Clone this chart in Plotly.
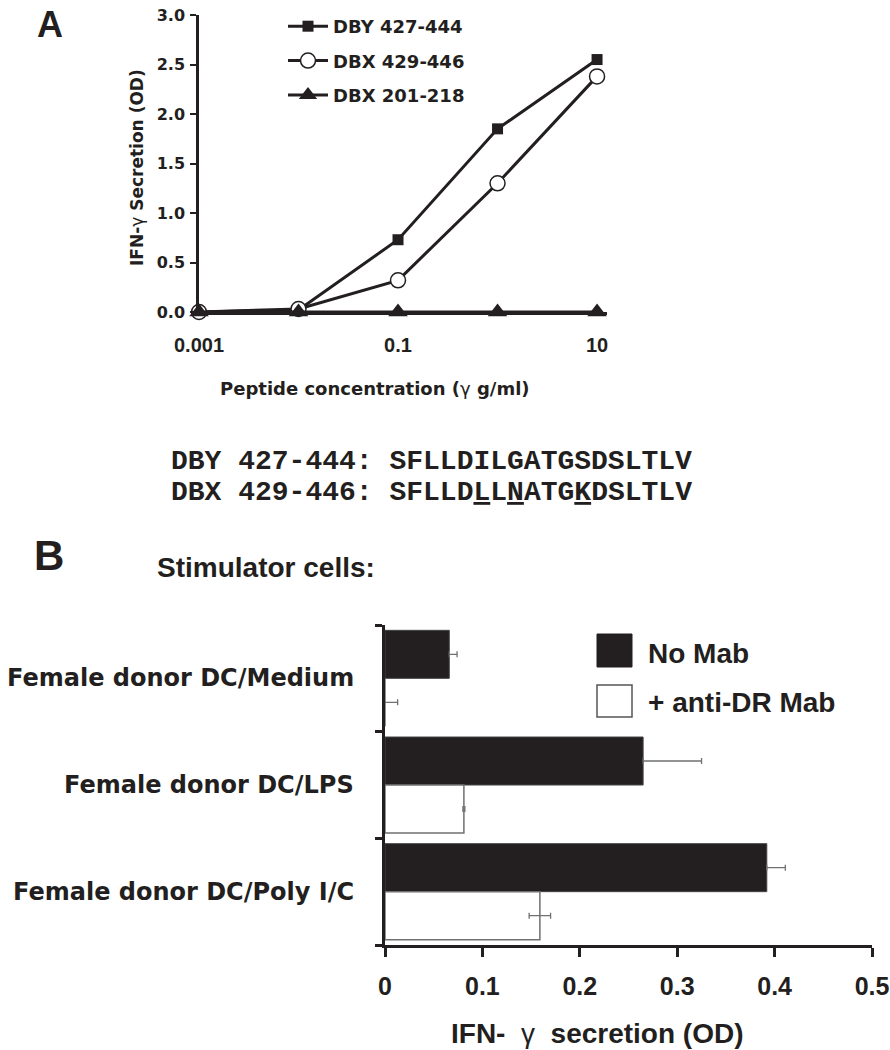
import plotly.graph_objects as go

# ---------------- Panel A data ----------------
conc = [0.001, 0.01, 0.1, 1, 10]
dby_427_444 = [0.0, 0.02, 0.73, 1.85, 2.55]
dbx_429_446 = [0.0, 0.03, 0.32, 1.30, 2.38]
dbx_201_218 = [0.0, 0.0, 0.0, 0.0, 0.0]
series_names = ["DBY 427-444", "DBX 429-446", "DBX 201-218"]
x_tick_vals = [0.001, 0.1, 10]
x_tick_text = ["0.001", "0.1", "10"]
y_tick_vals = [0, 0.5, 1.0, 1.5, 2.0, 2.5, 3.0]
y_tick_text = ["0.0", "0.5", "1.0", "1.5", "2.0", "2.5", "3.0"]

# ---------------- Panel B data ----------------
stimulators = ["Female donor DC/Medium", "Female donor DC/LPS", "Female donor DC/Poly I/C"]
no_mab = [0.066, 0.265, 0.392]
no_mab_err = [0.008, 0.060, 0.019]
anti_dr = [0.0, 0.081, 0.159]
anti_dr_err = [0.013, 0.001, 0.011]
bar_names = ["No Mab", "+ anti-DR Mab"]
bx_ticks = [0, 0.1, 0.2, 0.3, 0.4, 0.5]
bx_text = ["0", "0.1", "0.2", "0.3", "0.4", "0.5"]

INK = "#231f20"
DJ = "DejaVu Sans"
AR = "Liberation Sans, Arial"
MONO = "Liberation Mono, Courier New"
W, H = 890, 1050

fig = go.Figure()

# Panel A traces
fig.add_trace(go.Scatter(x=conc, y=dby_427_444, mode="lines+markers", name=series_names[0],
                         line=dict(color=INK, width=3),
                         marker=dict(symbol="square", size=11, color=INK),
                         cliponaxis=False, legendgroup="a", xaxis="x", yaxis="y"))
fig.add_trace(go.Scatter(x=conc, y=dbx_429_446, mode="lines+markers", name=series_names[1],
                         line=dict(color=INK, width=3),
                         marker=dict(symbol="circle", size=15, color="white",
                                     line=dict(color=INK, width=1.5)),
                         cliponaxis=False, legendgroup="b", xaxis="x", yaxis="y"))
fig.add_trace(go.Scatter(x=conc, y=dbx_201_218, mode="lines+markers", name=series_names[2],
                         line=dict(color=INK, width=3),
                         marker=dict(symbol="triangle-up", size=17, color=INK),
                         cliponaxis=False, legendgroup="c", xaxis="x", yaxis="y"))

# Panel B traces
cat_pos = list(range(len(stimulators)))
fig.add_trace(go.Bar(y=cat_pos, x=no_mab, orientation="h", name=bar_names[0],
                     marker=dict(color=INK, line=dict(color="#444", width=1)),
                     error_x=dict(type="data", array=no_mab_err, arrayminus=[0]*3,
                                  symmetric=False, color="#707070", thickness=1.3, width=3),
                     showlegend=False, xaxis="x2", yaxis="y2"))
fig.add_trace(go.Bar(y=cat_pos, x=anti_dr, orientation="h", name=bar_names[1],
                     marker=dict(color="white", line=dict(color="#707070", width=1.5)),
                     error_x=dict(type="data", array=anti_dr_err,
                                  color="#707070", thickness=1.3, width=3),
                     showlegend=False, xaxis="x2", yaxis="y2"))

def px_x(p):
    return p / W

def px_y(p):
    return 1 - p / H

def label(text, x, y, family, size, xanchor="center", weight="bold", angle=0):
    return dict(text=text, x=px_x(x), y=px_y(y), xref="paper", yref="paper",
                xanchor=xanchor, yanchor="middle", showarrow=False, textangle=angle,
                font=dict(family=family, size=size, color=INK, weight=weight))

annotations = [
    label("A", 50, 24, AR, 36),
    label("B", 49, 555, AR, 42),
    label("<b>IFN-</b>γ<b> Secretion (OD)</b>", 137, 168, DJ, 17, weight="normal", angle=-90),
    label("<b>Peptide concentration (</b>γ<b> g/ml)</b>", 375, 388, DJ, 18, weight="normal"),
    label("DBY 427-444: SFLLDILGATGSDSLTLV", 169, 462, MONO, 28, xanchor="left"),
    label("DBX 429-446: SFLLD<u>L</u>L<u>N</u>ATG<u>K</u>DSLTLV", 169, 492, MONO, 28, xanchor="left"),
    label("Stimulator cells:", 155, 567, AR, 28, xanchor="left"),
    label("<b>IFN- </b> γ <b> secretion (OD)</b>", 597, 1033, AR, 28, weight="normal"),
    label(bar_names[0], 646, 653, AR, 28, xanchor="left"),
    label(bar_names[1], 646, 702, AR, 28, xanchor="left"),
]
for i, lab in enumerate(stimulators):
    annotations.append(dict(text=lab, x=px_x(356), y=i, xref="paper", yref="y2",
                            xanchor="right", yanchor="middle", showarrow=False,
                            font=dict(family=DJ, size=24, color=INK, weight="bold")))

shapes = [
    dict(type="rect", xref="paper", yref="paper", x0=px_x(597), x1=px_x(632),
         y0=px_y(667), y1=px_y(634), fillcolor=INK, line=dict(color=INK, width=1)),
    dict(type="rect", xref="paper", yref="paper", x0=px_x(597), x1=px_x(632),
         y0=px_y(717), y1=px_y(685), fillcolor="white", line=dict(color="#555", width=1.5)),
]

fig.update_layout(
    width=W, height=H,
    margin=dict(l=0, r=0, t=0, b=0, autoexpand=False),
    paper_bgcolor="white", plot_bgcolor="white",
    showlegend=True,
    legend=dict(x=px_x(283), y=px_y(8), xanchor="left", yanchor="top",
                font=dict(family=DJ, size=18, color=INK, weight="bold"), tracegroupgap=8,
                bgcolor="rgba(0,0,0,0)", itemwidth=40),
    barmode="group", bargap=0.1, bargroupgap=0,
    annotations=annotations, shapes=shapes,
    xaxis=dict(type="log", domain=[px_x(199), px_x(607)], range=[-3, 1.1],
               tickvals=x_tick_vals, ticktext=x_tick_text, automargin=False,
               ticks="", showline=True, linewidth=2.5, linecolor=INK,
               showgrid=False, zeroline=False, ticklabelstandoff=13,
               tickfont=dict(family=AR, size=20, color=INK, weight="bold"), anchor="y"),
    yaxis=dict(domain=[px_y(312), px_y(15)], range=[0, 3], automargin=False,
               tickvals=y_tick_vals, ticktext=y_tick_text,
               ticks="outside", ticklen=6, tickwidth=2, tickcolor=INK,
               showline=True, linewidth=2.5, linecolor=INK,
               showgrid=False, zeroline=False, ticklabelstandoff=2,
               tickfont=dict(family=DJ, size=16, color=INK, weight="bold"), anchor="x"),
    xaxis2=dict(domain=[px_x(385), px_x(872)], range=[0, 0.5], automargin=False,
                tickvals=bx_ticks, ticktext=bx_text,
                ticks="outside", ticklen=9, tickwidth=2.5, tickcolor=INK,
                showline=True, linewidth=2.5, linecolor=INK,
                showgrid=False, zeroline=False, ticklabelstandoff=8,
                tickfont=dict(family=AR, size=25, color=INK, weight="bold"), anchor="y2"),
    yaxis2=dict(domain=[px_y(945), px_y(625)], range=[2.5, -0.5], automargin=False,
                tickvals=[-0.5, 0.5, 1.5, 2.5], showticklabels=False,
                ticks="outside", ticklen=7, tickwidth=2.5, tickcolor=INK,
                showline=True, linewidth=2.5, linecolor=INK,
                showgrid=False, zeroline=False, anchor="x2"),
)

fig.write_html("out.html", config={"displayModeBar": False},
               post_script="document.body.style.margin='0px';")
